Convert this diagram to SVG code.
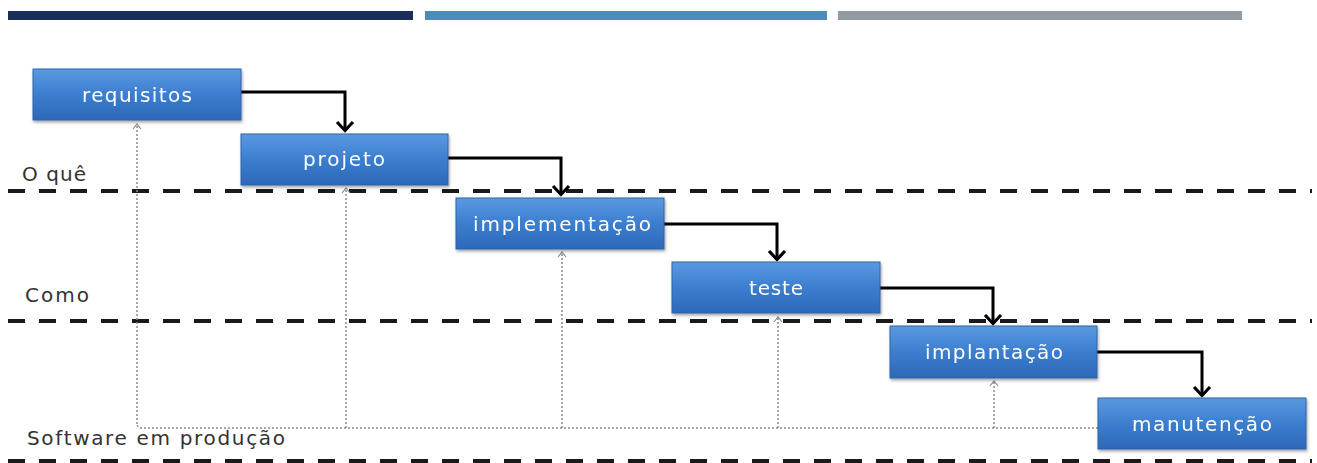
<svg xmlns="http://www.w3.org/2000/svg" width="1317" height="463" viewBox="0 0 1317 463">
<style>
.box{fill:url(#bg);stroke:#2d64ab;stroke-width:1}
.lbl{font-family:"DejaVu Sans",sans-serif;font-size:20px;fill:#ffffff;text-anchor:middle}
.side{font-family:"DejaVu Sans",sans-serif;font-size:20px;fill:#333333}
.flow{fill:none;stroke:#000;stroke-width:3;marker-end:url(#ah)}
.fb{fill:none;stroke:#8a8a8a;stroke-width:1.5;stroke-dasharray:2 2}
.fba{fill:none;stroke:#8a8a8a;stroke-width:1.5;stroke-dasharray:2 2;marker-end:url(#oh)}
.div{stroke:#1a1a1a;stroke-width:4;stroke-dasharray:17 14}
</style>
<defs>
<linearGradient id="bg" x1="0" y1="0" x2="0" y2="1">
<stop offset="0" stop-color="#5a9ae0"/>
<stop offset="0.5" stop-color="#3b7ecf"/>
<stop offset="1" stop-color="#2d68b6"/>
</linearGradient>
<filter id="sh" x="-5%" y="-10%" width="110%" height="130%">
<feDropShadow dx="1" dy="2" stdDeviation="1.5" flood-color="#000" flood-opacity="0.35"/>
</filter>
<marker id="ah" viewBox="0 0 20 14" refX="10" refY="12" markerWidth="20" markerHeight="14" markerUnits="userSpaceOnUse" orient="0">
<path d="M2,3 L10,11.5 L18,3" fill="none" stroke="#000" stroke-width="3.2"/>
</marker>
<marker id="oh" viewBox="0 0 10 8" refX="5" refY="1" markerWidth="10" markerHeight="8" markerUnits="userSpaceOnUse" orient="0">
<path d="M1,6 L5,1 L9,6" fill="none" stroke="#8a8a8a" stroke-width="1.2"/>
</marker>
</defs>
<rect width="1317" height="463" fill="#ffffff"/>
<g id="topbars">
<rect x="8" y="11" width="405" height="9" fill="#1a2e5c"/>
<rect x="425" y="11" width="402" height="9" fill="#4a8db8"/>
<rect x="838" y="11" width="404" height="9" fill="#939aa1"/>
</g>
<g id="dividers">
<line class="div" x1="8" y1="191" x2="1312" y2="191"/>
<line class="div" x1="8" y1="321" x2="1312" y2="321"/>
<line class="div" x1="8" y1="461" x2="1312" y2="461"/>
</g>
<g id="connectors">
<path class="fb" d="M1098,428 L142,428 Q137,428 137,423"/>
<path class="fba" d="M137,424 L137,124"/>
<path class="fba" d="M346,428 L346,188"/>
<path class="fba" d="M562,428 L562,252"/>
<path class="fba" d="M778,428 L778,317"/>
<path class="fba" d="M994,428 L994,381"/>
<path class="flow" d="M241,92 L345,92 L345,131"/>
<path class="flow" d="M448,158 L561,158 L561,195"/>
<path class="flow" d="M664,224 L777,224 L777,260"/>
<path class="flow" d="M880,288 L993,288 L993,324"/>
<path class="flow" d="M1097,352 L1202,352 L1202,396"/>
</g>
<g id="n-requisitos" filter="url(#sh)">
<rect class="box" x="33" y="69" width="208" height="51"/>
<text class="lbl" x="137" y="102" textLength="110" lengthAdjust="spacing">requisitos</text>
</g>
<g id="n-projeto" filter="url(#sh)">
<rect class="box" x="241" y="134" width="207" height="51"/>
<text class="lbl" x="344" y="166" textLength="82" lengthAdjust="spacing">projeto</text>
</g>
<g id="n-implementacao" filter="url(#sh)">
<rect class="box" x="456" y="198" width="208" height="51"/>
<text class="lbl" x="562" y="231" textLength="178" lengthAdjust="spacing">implementação</text>
</g>
<g id="n-teste" filter="url(#sh)">
<rect class="box" x="672" y="262" width="208" height="51"/>
<text class="lbl" x="776" y="295" textLength="54" lengthAdjust="spacing">teste</text>
</g>
<g id="n-implantacao" filter="url(#sh)">
<rect class="box" x="890" y="326" width="207" height="52"/>
<text class="lbl" x="994" y="359" textLength="138" lengthAdjust="spacing">implantação</text>
</g>
<g id="n-manutencao" filter="url(#sh)">
<rect class="box" x="1098" y="398" width="208" height="51"/>
<text class="lbl" x="1202" y="431" textLength="140" lengthAdjust="spacing">manutenção</text>
</g>
<g id="labels">
<text class="side" x="22" y="181" textLength="64" lengthAdjust="spacing">O quê</text>
<text class="side" x="25" y="302" textLength="64" lengthAdjust="spacing">Como</text>
<text class="side" x="27" y="445" textLength="258" lengthAdjust="spacing">Software em produção</text>
</g>
</svg>
